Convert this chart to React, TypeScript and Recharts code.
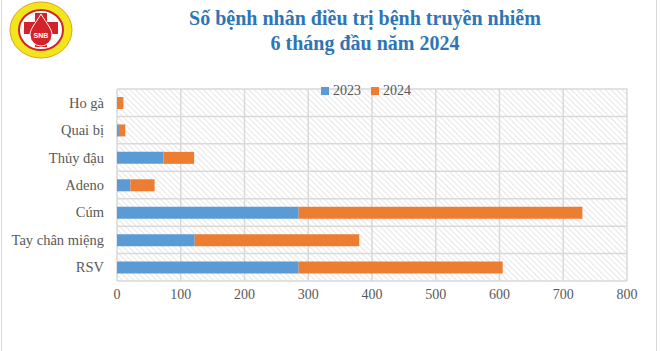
import React from "react";
import {
  BarChart,
  Bar,
  XAxis,
  YAxis,
  CartesianGrid,
  Legend,
} from "recharts";

// nhóm bệnh, từ trên xuống dưới
const diseases = ["Ho gà", "Quai bị", "Thủy đậu", "Adeno", "Cúm", "Tay chân miệng", "RSV"];
const cases2023 = [0, 3, 73, 21, 285, 122, 285];
const cases2024 = [10, 10, 48, 38, 445, 258, 320];
const xTicks = [0, 100, 200, 300, 400, 500, 600, 700, 800];

const rows = diseases.map((name, i) => ({
  name,
  y2023: cases2023[i],
  y2024: cases2024[i],
}));

const FONT = "Liberation Serif, serif";
const GRID = "#d9d9d9";
const TEXT = "#595959";

const Logo = () => (
  <svg
    width={66}
    height={60}
    viewBox="0 0 66 60"
    style={{ position: "absolute", left: 8, top: 0 }}
  >
    <ellipse cx={33} cy={30} rx={31} ry={28} fill="#f3e51c" stroke="#e0a020" />
    <ellipse cx={33} cy={30} rx={22} ry={20} fill="#fff" stroke="#d2232a" strokeWidth={2} />
    <rect x={27} y={13} width={12} height={34} fill="#d2232a" />
    <rect x={16} y={22} width={34} height={12} fill="#d2232a" />
    <path d="M33 14 C27 24 22 29 22 35 a11 11 0 0 0 22 0 C44 29 39 24 33 14Z" fill="#d2232a" stroke="#fff" strokeWidth={1} />
    <text x={33} y={38} textAnchor="middle" fontSize={7} fontWeight="bold" fill="#fff" fontFamily="Liberation Sans, sans-serif">
      SNB
    </text>
  </svg>
);

const XTick = ({ x, y, payload }: any) => (
  <text x={x} y={y} dy={12} textAnchor="middle" fill={TEXT} fontSize={14} style={{ fontFamily: FONT }}>
    {payload.value}
  </text>
);

const YTick = ({ x, y, payload }: any) => (
  <text x={x} y={y} dy={5} textAnchor="end" fill={TEXT} fontSize={14.5} style={{ fontFamily: FONT }}>
    {payload.value}
  </text>
);

const App: React.FC = () => {
  const bandLines = ({ offset }: any) =>
    diseases.map((_, i) => offset.top + (offset.height * i) / diseases.length).concat(offset.top + offset.height);

  return (
    <div
      style={{
        position: "absolute",
        left: 0,
        top: 0,
        width: 660,
        height: 351,
        background: "#fff",
        fontFamily: FONT,
      }}
    >
      <div
        style={{
          position: "absolute",
          left: 1,
          top: -1,
          width: 656,
          height: 353,
          borderLeft: `1px solid ${GRID}`,
          borderRight: `1px solid ${GRID}`,
          boxSizing: "border-box",
        }}
      />
      <Logo />
      <div
        style={{
          position: "absolute",
          left: 70,
          width: 590,
          top: 6,
          textAlign: "center",
          color: "#2e75b6",
          fontWeight: "bold",
          fontSize: 20,
          lineHeight: "25px",
        }}
      >
        Số bệnh nhân điều trị bệnh truyền nhiễm
        <br />6 tháng đầu năm 2024
      </div>
      <BarChart
        width={660}
        height={351}
        data={rows}
        layout="vertical"
        barSize={12}
        margin={{ top: 71, right: 33, bottom: 40, left: 0 }}
        style={{ position: "absolute", left: 0, top: 0, fontFamily: FONT }}
      >
        <defs>
          <pattern
            id="hatch"
            width={4}
            height={4}
            patternUnits="userSpaceOnUse"
            patternTransform="rotate(-45)"
          >
            <line x1={0} y1={0} x2={0} y2={4} stroke="#d0d0d0" strokeWidth={1} />
          </pattern>
        </defs>
        <CartesianGrid
          stroke={GRID}
          strokeWidth={1.5}
          fill="url(#hatch)"
          fillOpacity={1}
          horizontalCoordinatesGenerator={bandLines}
          verticalValues={xTicks}
        />
        <XAxis
          type="number"
          domain={[0, 800]}
          ticks={xTicks}
          axisLine={false}
          tickLine={false}
          tickSize={0}
          tickMargin={6}
          height={30}
          tick={<XTick />}
        />
        <YAxis
          type="category"
          dataKey="name"
          width={117}
          axisLine={false}
          tickLine={false}
          tickSize={0}
          tickMargin={13}
          interval={0}
          tick={<YTick />}
        />
        <Legend
          verticalAlign="top"
          iconType="square"
          iconSize={8}
          wrapperStyle={{ position: "absolute", top: 81, left: 311, width: 120 }}
          formatter={(value: string) => (
            <span style={{ color: TEXT, fontSize: 14, fontFamily: FONT }}>{value}</span>
          )}
        />
        <Bar dataKey="y2023" name="2023" stackId="a" fill="#5b9bd5" isAnimationActive={false} />
        <Bar dataKey="y2024" name="2024" stackId="a" fill="#ed7d31" isAnimationActive={false} />
      </BarChart>
    </div>
  );
};

export default App;
